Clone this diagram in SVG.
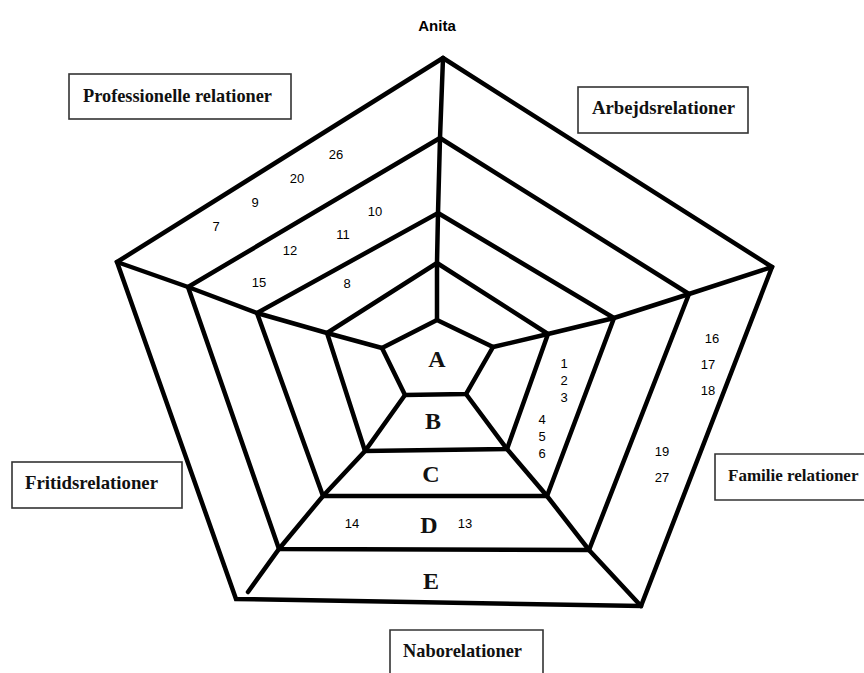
<svg xmlns="http://www.w3.org/2000/svg" width="864" height="673" viewBox="0 0 864 673">
<style>
.web{fill:none;stroke:#000;stroke-width:4.5;stroke-linejoin:miter;stroke-linecap:round}
.box{fill:#fff;stroke:#333;stroke-width:1.6}
.lbl{font-family:"Liberation Serif","Times New Roman",serif;font-weight:bold;font-size:19px;fill:#111}
.ring{font-family:"Liberation Serif","Times New Roman",serif;font-weight:bold;font-size:24px;fill:#111;text-anchor:middle}
.num{font-family:"Liberation Sans",Arial,sans-serif;font-size:13px;fill:#000;text-anchor:middle}
.title{font-family:"Liberation Sans",Arial,sans-serif;font-weight:bold;font-size:15px;fill:#000;text-anchor:middle}
</style>
<rect width="864" height="673" fill="#fff"/>
<text class="title" x="437" y="31">Anita</text>

<g id="rings">
  <polygon id="ring-A" class="web" points="437,320 493,347 466,394 405,395 382,348"/>
  <polygon id="ring-B" class="web" points="437,263 548,334 507,449 365,451 327,333"/>
  <polygon id="ring-C" class="web" points="438,213 614,318 547,496 323,496 257,313"/>
  <polygon id="ring-D" class="web" points="440,138 689,294 589,550 279,549 188,287"/>
  <polygon id="ring-E" class="web" points="443,58 772,267 641,606 236,599 117,262"/>
</g>

<g id="connectors">
  <polyline class="web" points="437,320 437,263 438,213 440,138 443,58"/>
  <polyline class="web" points="493,347 548,334 614,318 689,294 772,267"/>
  <polyline class="web" points="466,394 507,449 547,496 589,550 641,606"/>
  <polyline class="web" points="405,395 365,451 323,496 279,549 248,592"/>
  <polyline class="web" points="382,348 327,333 257,313 188,287 117,262"/>
</g>

<g id="ring-letters">
  <text class="ring" x="437" y="367">A</text>
  <text class="ring" x="433" y="429">B</text>
  <text class="ring" x="431" y="482">C</text>
  <text class="ring" x="429" y="533">D</text>
  <text class="ring" x="431" y="589">E</text>
</g>

<g id="numbers">
  <text class="num" x="336" y="159">26</text>
  <text class="num" x="297" y="183">20</text>
  <text class="num" x="255" y="207">9</text>
  <text class="num" x="216" y="231">7</text>
  <text class="num" x="375" y="216">10</text>
  <text class="num" x="343" y="239">11</text>
  <text class="num" x="290" y="255">12</text>
  <text class="num" x="259" y="287">15</text>
  <text class="num" x="347" y="288">8</text>
  <text class="num" x="712" y="343">16</text>
  <text class="num" x="708" y="369">17</text>
  <text class="num" x="708" y="395">18</text>
  <text class="num" x="564" y="368">1</text>
  <text class="num" x="564" y="385">2</text>
  <text class="num" x="564" y="402">3</text>
  <text class="num" x="542" y="424">4</text>
  <text class="num" x="542" y="441">5</text>
  <text class="num" x="542" y="458">6</text>
  <text class="num" x="662" y="456">19</text>
  <text class="num" x="662" y="482">27</text>
  <text class="num" x="465" y="528">13</text>
  <text class="num" x="352" y="528">14</text>
</g>

<g id="node-professionelle">
  <rect class="box" x="69" y="74" width="222" height="45"/>
  <text class="lbl" x="83" y="102" textLength="189" lengthAdjust="spacingAndGlyphs">Professionelle relationer</text>
</g>
<g id="node-arbejds">
  <rect class="box" x="578" y="87" width="170" height="46"/>
  <text class="lbl" x="592" y="114" textLength="143" lengthAdjust="spacingAndGlyphs">Arbejdsrelationer</text>
</g>
<g id="node-fritids">
  <rect class="box" x="12" y="462" width="170" height="46"/>
  <text class="lbl" x="25" y="489" textLength="133" lengthAdjust="spacingAndGlyphs">Fritidsrelationer</text>
</g>
<g id="node-familie">
  <path class="box" d="M864,454 H715 V500 H864"/>
  <text class="lbl" x="728" y="481" style="font-size:17px">Familie relationer</text>
</g>
<g id="node-nabo">
  <path class="box" d="M390,673 V630 H543 V673"/>
  <text class="lbl" x="403" y="657" textLength="119" lengthAdjust="spacingAndGlyphs">Naborelationer</text>
</g>
</svg>
